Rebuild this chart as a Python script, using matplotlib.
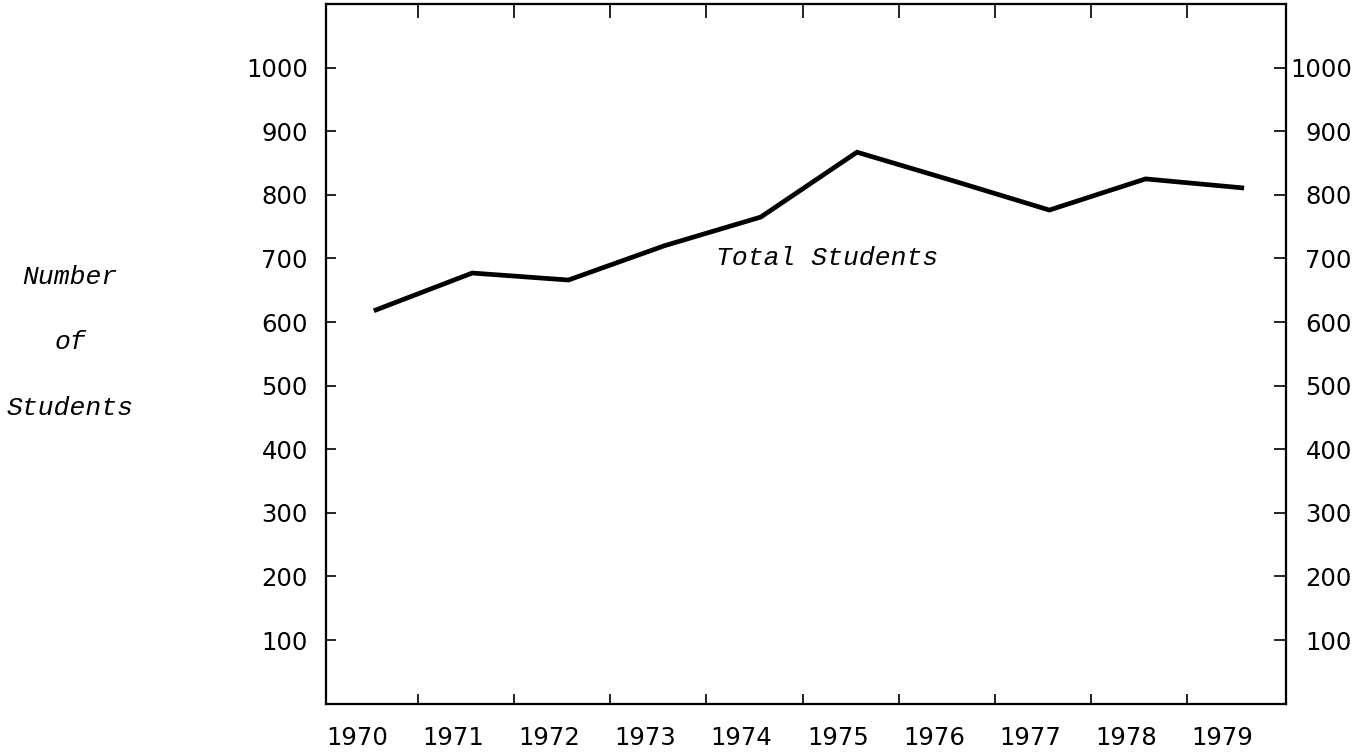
import matplotlib
matplotlib.use("Agg")
import matplotlib.pyplot as plt
import numpy as np

years = [1970, 1971, 1972, 1973, 1974, 1975, 1976, 1977, 1978, 1979]
students = [619, 677, 666, 720, 765, 867, 822, 776, 825, 811]
y_ticks = [100, 200, 300, 400, 500, 600, 700, 800, 900, 1000]
series_label = "Total Students"
ylabel_lines = ["Number", "of", "Students"]

W, H, DPI = 1372, 754, 100
fig = plt.figure(figsize=(W / DPI, H / DPI), dpi=DPI)
ax = fig.add_axes([326 / W, 1 - 703.6 / H, (1286 - 326) / W, (703.6 - 4) / H])

yr = np.array(years, dtype=float)
ax.plot(yr + 0.2, students, color="black", lw=3.4, solid_joinstyle="miter")

ax.set_xlim(1969.68, 1979.66)
ax.set_ylim(0, 1100)

for s in ax.spines.values():
    s.set_linewidth(1.5)
    s.set_color("black")

tick_font = {"family": "DejaVu Sans", "size": 17.5}
mono = ["Liberation Mono", "DejaVu Sans Mono"]

# x: tick marks offset from labels, labels at the years
ax.set_xticks(yr[:-1] + 0.635)
ax.set_xticklabels([])
ax.set_xticks(yr, minor=True)
ax.set_xticklabels([str(y) for y in years], minor=True, fontdict=tick_font)
ax.tick_params(axis="x", which="major", direction="in", length=7, width=1.2,
               top=False, bottom=True)
ax.tick_params(axis="x", which="minor", length=0, pad=16)

# top ticks (slightly longer)
axt = ax.twiny()
axt.set_xlim(ax.get_xlim())
axt.set_xticks(yr[:-1] + 0.635)
axt.set_xticklabels([])
axt.tick_params(axis="x", direction="in", length=10, width=1.2)

# left y axis
ax.set_yticks(y_ticks)
ax.set_yticklabels([str(v) for v in y_ticks], fontdict=tick_font)
ax.tick_params(axis="y", which="major", direction="in", length=7, width=1.2, pad=13)

# right y axis
ax2 = ax.twinx()
ax2.set_ylim(ax.get_ylim())
ax2.set_yticks(y_ticks)
ax2.set_yticklabels([str(v) for v in y_ticks], fontdict=tick_font)
ax2.tick_params(axis="y", direction="in", length=8.5, width=1.2, pad=47.5)
for lab in ax2.get_yticklabels():
    lab.set_horizontalalignment("right")
for a in (ax2, axt):
    for s in a.spines.values():
        s.set_linewidth(1.5)

# series label inside the plot
ax.text(1973.73, 700, series_label, fontsize=19, family=mono, style="italic",
        ha="left", va="center")

# y label at left, three lines
for txt, yv in zip(ylabel_lines, [277, 342, 408]):
    fig.text(70 / W, 1 - yv / H, txt, fontsize=19, family=mono, style="italic",
             ha="center", va="center")

fig.savefig("out.png", dpi=DPI)
